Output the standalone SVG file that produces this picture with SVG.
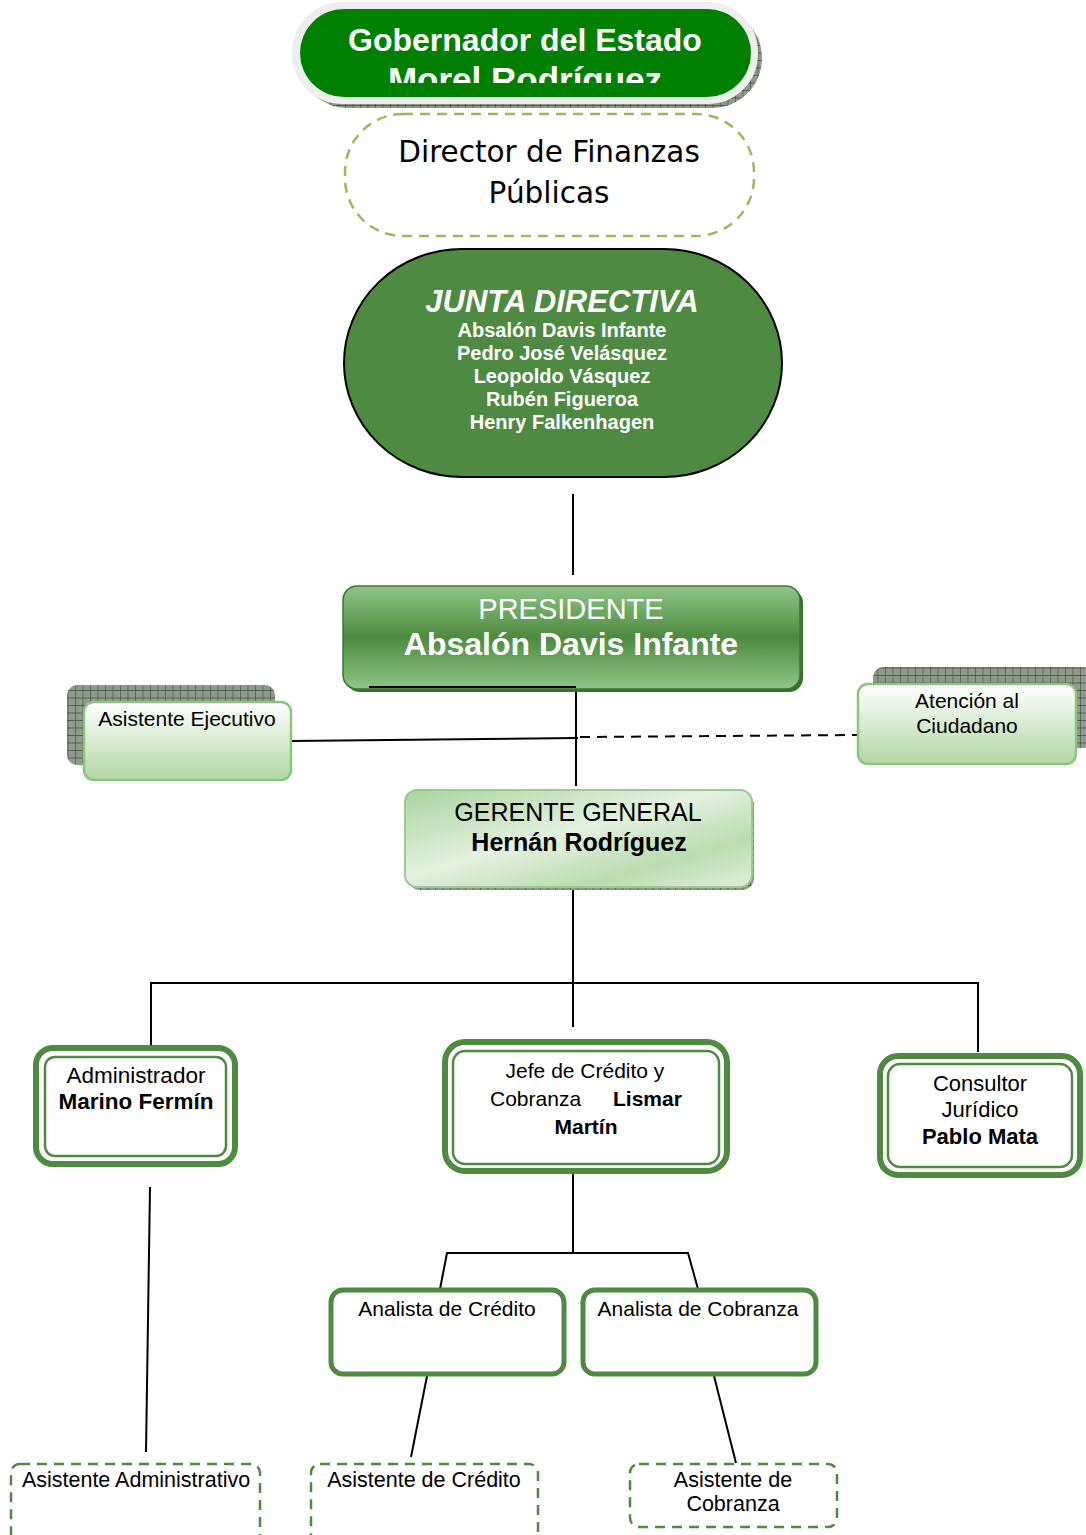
<svg xmlns="http://www.w3.org/2000/svg" width="1086" height="1535" viewBox="0 0 1086 1535">
<defs>
<pattern id="grid" width="7.5" height="7.5" patternUnits="userSpaceOnUse">
<rect width="7.5" height="7.5" fill="#8E9B8A"/>
<path d="M0 0H7.5M0 0V7.5" stroke="#3E4A3A" stroke-width="1.2"/>
</pattern>
<linearGradient id="presG" x1="0" y1="0" x2="0" y2="1">
<stop offset="0" stop-color="#8FC587"/>
<stop offset="0.5" stop-color="#4E8A40"/>
<stop offset="1" stop-color="#8FC587"/>
</linearGradient>
<linearGradient id="lightG" x1="0" y1="0" x2="0" y2="1">
<stop offset="0" stop-color="#FFFFFF"/>
<stop offset="1" stop-color="#B1D6A4"/>
</linearGradient>
<linearGradient id="gerG" x1="0" y1="0" x2="1" y2="1">
<stop offset="0" stop-color="#A9D39E"/>
<stop offset="0.45" stop-color="#E3F1DF"/>
<stop offset="0.75" stop-color="#B9DCAF"/>
<stop offset="1" stop-color="#E0F0DB"/>
</linearGradient>
<clipPath id="govClip"><rect x="300" y="9" width="451" height="74"/></clipPath>
</defs>
<style>
.sans{font-family:"Liberation Sans",Arial,sans-serif}
.dv{font-family:"DejaVu Sans",Verdana,sans-serif}
.w{fill:#FFFFFF}
.k{fill:#000000}
.b{font-weight:bold}
.c{text-anchor:middle}
.conn{stroke:#000;stroke-width:2;fill:none}
.dbl-o{fill:#FFFFFF;stroke:#4F8A42;stroke-width:6}
.dbl-i{fill:none;stroke:#4F8A42;stroke-width:2.5}
.thick{fill:#FFFFFF;stroke:#4F8A42;stroke-width:5}
.dash{fill:#FFFFFF;stroke:#4F8A42;stroke-width:2.5;stroke-dasharray:10 7}
.light{fill:url(#lightG);stroke:#8CC67E;stroke-width:2.5}
</style>

<g id="connectors">
<line class="conn" x1="573" y1="494" x2="573" y2="575"/>
<polyline class="conn" points="369,687 576,687 576,786"/>
<line class="conn" x1="291" y1="741" x2="578" y2="738"/>
<line class="conn" x1="580" y1="737" x2="862" y2="735" stroke-dasharray="10 7"/>
<line class="conn" x1="573" y1="888" x2="573" y2="1027"/>
<polyline class="conn" points="151,1045 151,983 978,983 978,1052"/>
<line class="conn" x1="573" y1="1174" x2="573" y2="1253"/>
<polyline class="conn" points="440,1289 447,1253 688,1253 698,1289"/>
<line class="conn" x1="150" y1="1187" x2="146" y2="1452"/>
<line class="conn" x1="429" y1="1366" x2="411" y2="1457"/>
<line class="conn" x1="714" y1="1376" x2="736" y2="1463"/>
</g>

<g id="gobernador">
<rect x="298" y="8" width="464" height="100" rx="50" fill="url(#grid)"/>
<rect x="292" y="2" width="466" height="102" rx="50" fill="#EEEEEE"/>
<rect x="300" y="9" width="451" height="88" rx="44" fill="#008000"/>
<text class="sans w b c" x="525" y="51" font-size="32">Gobernador del Estado</text>
<text class="sans w b c" x="525" y="92" font-size="35" clip-path="url(#govClip)">Morel Rodríguez</text>
</g>

<g id="director">
<rect x="345" y="114" width="409" height="122" rx="58" fill="#FFFFFF" stroke="#9BBB59" stroke-width="2.5" stroke-dasharray="10 7"/>
<text class="dv k c" x="549" y="162" font-size="29.5">Director de Finanzas</text>
<text class="dv k c" x="549" y="203" font-size="29.5">Públicas</text>
</g>

<g id="junta">
<rect x="344" y="249" width="438" height="228" rx="118" ry="114" fill="#4F8A42" stroke="#000" stroke-width="2"/>
<text class="sans w b c" x="562" y="312" font-size="31" font-style="italic">JUNTA DIRECTIVA</text>
<text class="sans w b c" x="562" y="337" font-size="20">Absalón Davis Infante</text>
<text class="sans w b c" x="562" y="360" font-size="20">Pedro José Velásquez</text>
<text class="sans w b c" x="562" y="383" font-size="20">Leopoldo Vásquez</text>
<text class="sans w b c" x="562" y="406" font-size="20">Rubén Figueroa</text>
<text class="sans w b c" x="562" y="429" font-size="20">Henry Falkenhagen</text>
</g>

<g id="presidente">
<rect x="346" y="589" width="457" height="103" rx="14" fill="#3D6B30"/>
<rect x="343" y="586" width="457" height="103" rx="14" fill="url(#presG)" stroke="#3F7434" stroke-width="1.5"/>
<text class="sans w c" x="571" y="619" font-size="29">PRESIDENTE</text>
<text class="sans w b c" x="571" y="655" font-size="32">Absalón Davis Infante</text>
<line class="conn" x1="369" y1="687" x2="576" y2="687"/>
</g>

<g id="asistente-ejecutivo">
<rect x="67" y="685" width="208" height="80" rx="10" fill="url(#grid)"/>
<rect class="light" x="84" y="702" width="207" height="78" rx="10"/>
<text class="sans k c" x="187" y="726" font-size="21">Asistente Ejecutivo</text>
</g>

<g id="atencion">
<rect x="873" y="667" width="220" height="81" rx="10" fill="url(#grid)"/>
<rect class="light" x="858" y="684" width="218" height="80" rx="10"/>
<text class="sans k c" x="967" y="708" font-size="21">Atención al</text>
<text class="sans k c" x="967" y="733" font-size="21">Ciudadano</text>
</g>

<g id="gerente">
<rect x="408" y="793" width="346" height="97" rx="12" fill="url(#grid)"/>
<rect x="405" y="790" width="347" height="97" rx="12" fill="url(#gerG)" stroke="#9BCB8E" stroke-width="2"/>
<text class="sans k c" x="578" y="821" font-size="25">GERENTE GENERAL</text>
<text class="sans k b c" x="579" y="851" font-size="25">Hernán Rodríguez</text>
</g>

<g id="administrador">
<rect class="dbl-o" x="36" y="1048" width="199" height="116" rx="17"/>
<rect class="dbl-i" x="45" y="1057" width="181" height="99" rx="10"/>
<text class="sans k c" x="136" y="1083" font-size="22.5">Administrador</text>
<text class="sans k b c" x="136" y="1109" font-size="22.5">Marino Fermín</text>
</g>

<g id="jefe-credito">
<rect class="dbl-o" x="445" y="1042" width="282" height="129" rx="20"/>
<rect class="dbl-i" x="453" y="1051" width="266" height="113" rx="12"/>
<text class="sans k c" x="585" y="1078" font-size="21">Jefe de Crédito y</text>
<text class="sans k" x="490" y="1106" font-size="21">Cobranza</text>
<text class="sans k b" x="613" y="1106" font-size="21">Lismar</text>
<text class="sans k b c" x="586" y="1134" font-size="21">Martín</text>
</g>

<g id="consultor">
<rect class="dbl-o" x="880" y="1056" width="200" height="119" rx="18"/>
<rect class="dbl-i" x="888" y="1064" width="184" height="103" rx="12"/>
<text class="sans k c" x="980" y="1091" font-size="22">Consultor</text>
<text class="sans k c" x="980" y="1117" font-size="22">Jurídico</text>
<text class="sans k b c" x="980" y="1144" font-size="22">Pablo Mata</text>
</g>

<g id="analista-credito">
<rect class="thick" x="331" y="1290" width="233" height="84" rx="12"/>
<text class="sans k c" x="447" y="1316" font-size="21">Analista de Crédito</text>
</g>

<g id="analista-cobranza">
<rect class="thick" x="583" y="1290" width="233" height="84" rx="12"/>
<text class="sans k c" x="698" y="1316" font-size="21">Analista de Cobranza</text>
</g>

<g id="asistente-administrativo">
<rect class="dash" x="11" y="1464" width="249" height="95" rx="9"/>
<text class="sans k c" x="136" y="1487" font-size="21.5">Asistente Administrativo</text>
</g>

<g id="asistente-credito">
<rect class="dash" x="311" y="1464" width="227" height="95" rx="9"/>
<text class="sans k c" x="424" y="1487" font-size="21.5">Asistente de Crédito</text>
</g>

<g id="asistente-cobranza">
<rect class="dash" x="630" y="1464" width="207" height="63" rx="9"/>
<text class="sans k c" x="733" y="1487" font-size="21.5">Asistente de</text>
<text class="sans k c" x="733" y="1511" font-size="21.5">Cobranza</text>
</g>
</svg>
